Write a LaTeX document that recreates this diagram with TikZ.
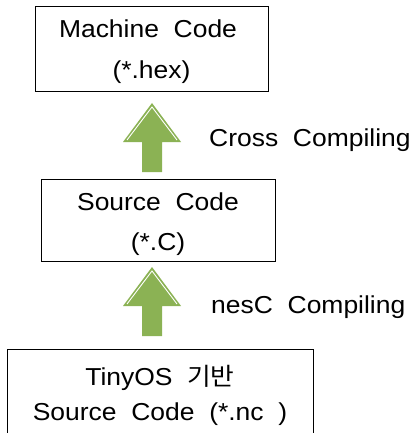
\documentclass[tikz,border=0pt]{standalone}
\usepackage{fontspec}
\setmainfont[WordSpace=2.0,FakeStretch=1.08]{Liberation Sans}
\newfontfamily\kofont[FakeStretch=1.05]{Noto Sans CJK KR}
\definecolor{arrowgreen}{RGB}{139,178,84}
\begin{document}
\begin{tikzpicture}[x=1pt,y=-1pt,
  box/.style={draw=black,line width=0.8pt},
  lbl/.style={font=\fontsize{24.5}{28}\selectfont,inner sep=0pt,anchor=center},
  sidelbl/.style={font=\fontsize{24.5}{28}\selectfont,inner sep=0pt,anchor=west}]
\useasboundingbox (0,0) rectangle (419,433);
% boxes
\draw[box] (35,6) rectangle (268,91);
\draw[box] (41,179) rectangle (275,261);
\draw[box] (7,349) rectangle (313,445);
\node[lbl] (t1a) at (148,29) {Machine Code};
\node[lbl] (t1b) at (151.5,72) {(*.hex)};
\node[lbl] (t2a) at (158,202) {Source Code};
\node[lbl] (t2b) at (158,244) {(*.C)};
\node[lbl] (t3a) at (160,378) {TinyOS {\kofont 기반}};
\node[lbl] (t3b) at (160,414) {Source Code (*.nc )};
% block arrows
\newcommand\blockarrow[2]{%
  \begin{scope}[shift={(#1,#2)}]
    \fill[arrowgreen] (0,0) -- (29,39) -- (10,39) -- (10,69) -- (-10,69) -- (-10,39) -- (-29,39) -- cycle;
    \draw[white,line width=0.9pt] (-25,37) -- (0,4) -- (25,37);
  \end{scope}}
\blockarrow{152}{103}
\blockarrow{152}{267}
\node[sidelbl] (c1) at (209,140) {Cross Compiling};
\node[sidelbl] (c2) at (211,307) {nesC Compiling};
\end{tikzpicture}
\end{document}
